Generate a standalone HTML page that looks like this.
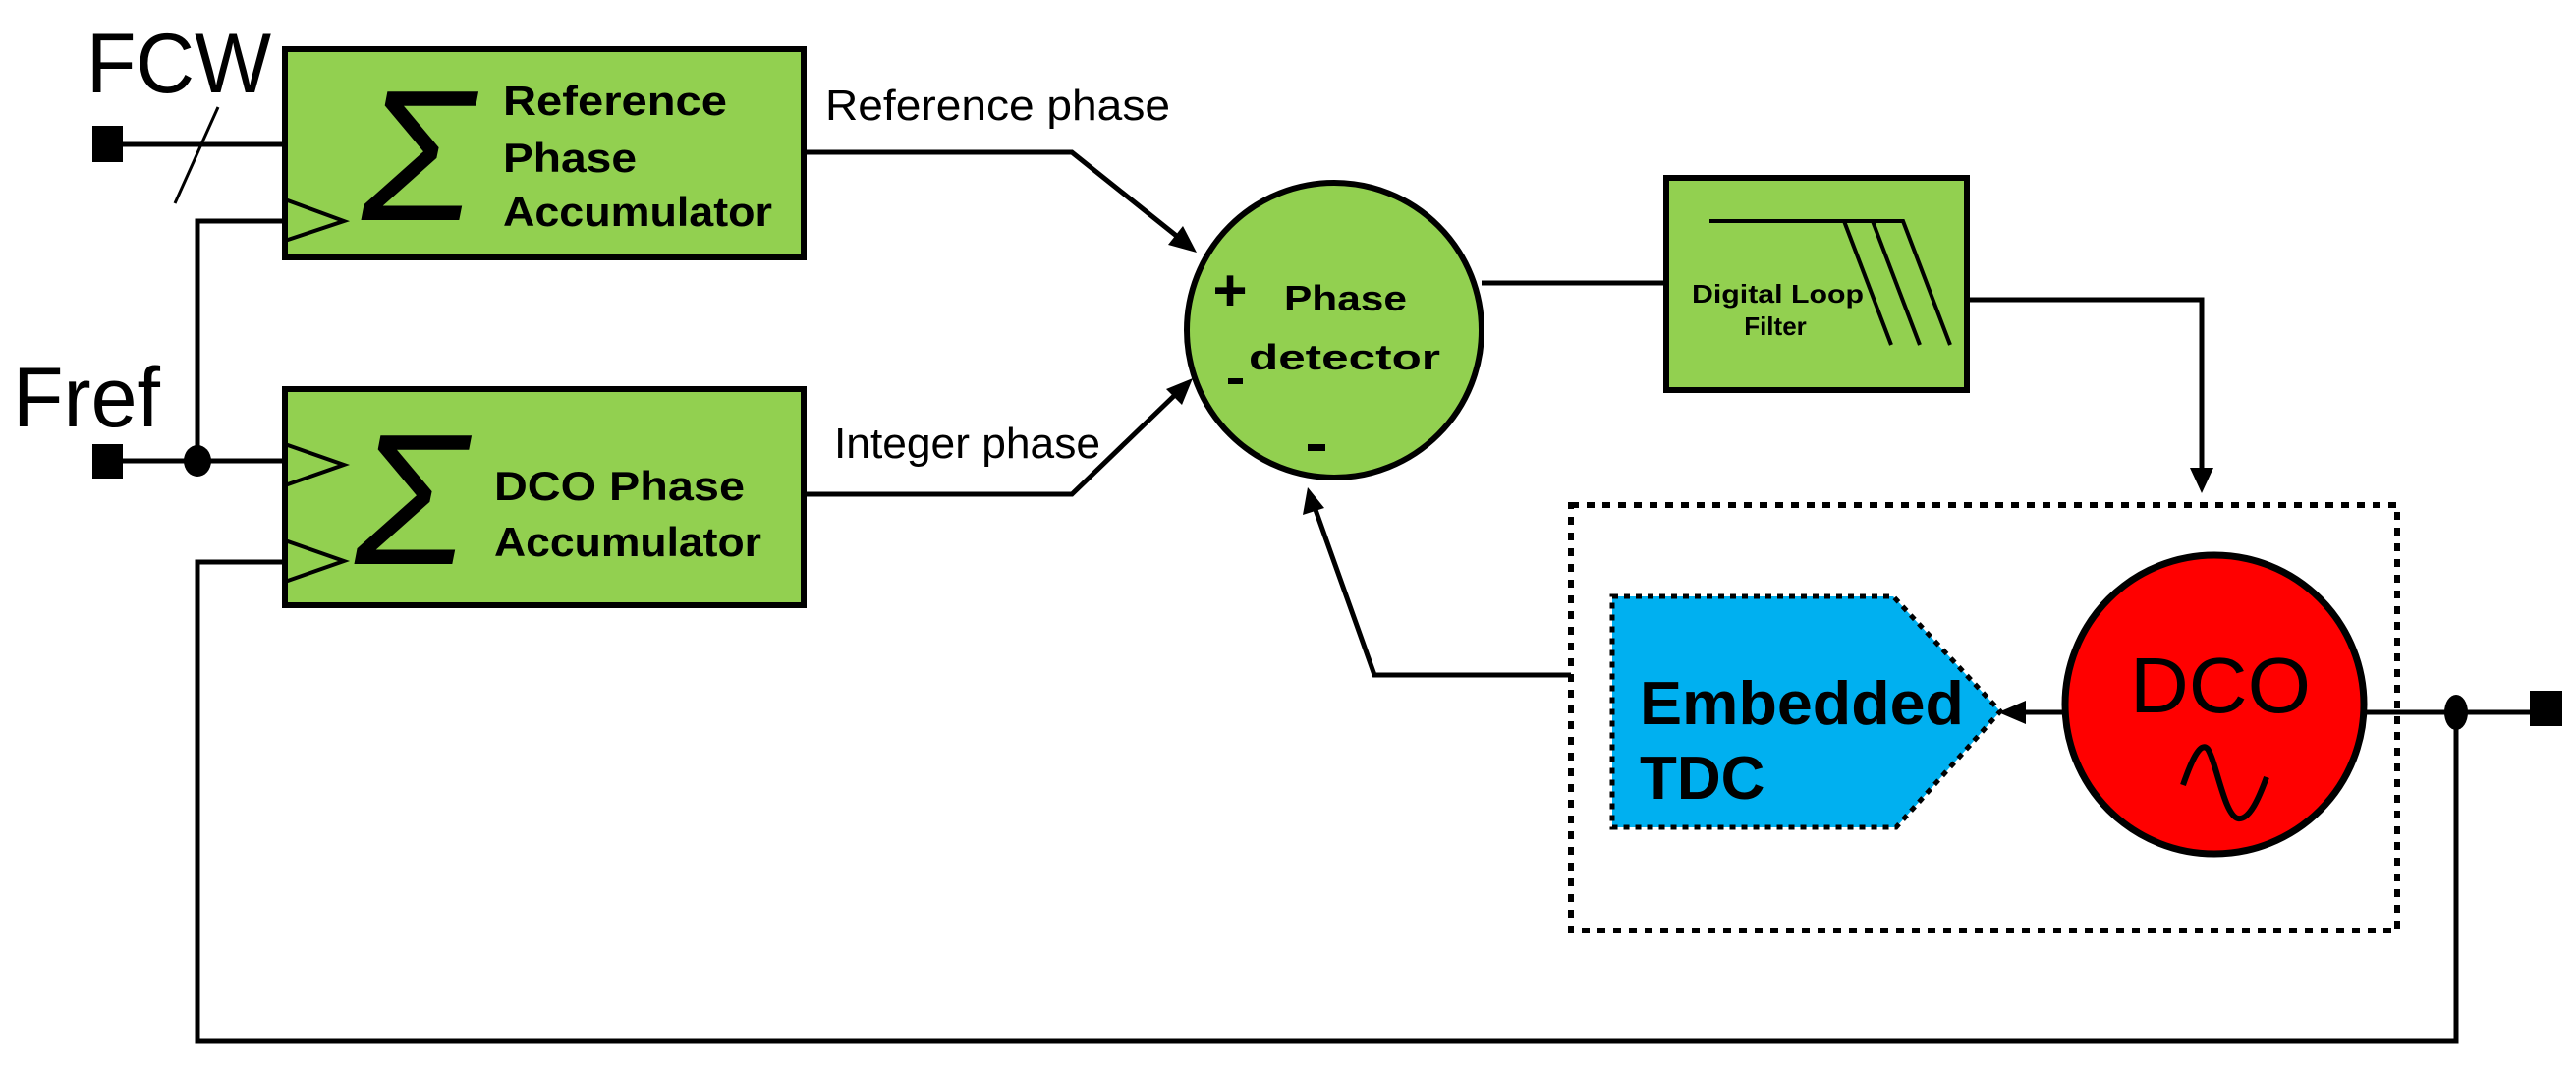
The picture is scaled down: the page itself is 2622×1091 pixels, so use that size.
<!DOCTYPE html>
<html><head><meta charset="utf-8"><style>
html,body{margin:0;padding:0;background:#fff;}
svg{display:block;}
text{font-family:"Liberation Sans",sans-serif;}
</style></head><body>
<svg width="2622" height="1091" viewBox="0 0 2622 1091" xmlns="http://www.w3.org/2000/svg">
<g stroke="#000" fill="none" stroke-width="5">
<line x1="110" y1="147" x2="290" y2="147"/>
<line x1="222" y1="109" x2="178" y2="207" stroke-width="3"/>
<polyline points="290,225 201,225 201,469"/>
<line x1="110" y1="469" x2="290" y2="469"/>
<polyline points="290,572 201,572 201,1059 2500,1059 2500,725"/>
<polyline points="818,155 1091,155 1200,242"/>
<polyline points="818,503 1091,503 1198,400"/>
<line x1="1508" y1="288" x2="1696" y2="288"/>
<polyline points="2002,305 2241,305 2241,480"/>
<polyline points="1599,687 1399,687 1338,516"/>
<line x1="2118" y1="725" x2="2058" y2="725"/>
<line x1="2406" y1="725" x2="2580" y2="725"/>
</g>
<g fill="#000">
<polygon points="1218,257 1189,249 1204,230"/>
<polygon points="1214,385 1187,396 1203,412"/>
<polygon points="2241,502 2229,476 2253,476"/>
<polygon points="1331,496 1326,524 1348,517"/>
<polygon points="2034,725 2062,713 2062,737"/>
</g>
<rect x="94" y="128" width="31" height="37" fill="#000"/>
<rect x="94" y="452" width="31" height="35" fill="#000"/>
<rect x="2575" y="703" width="33" height="36" fill="#000"/>
<ellipse cx="201" cy="469" rx="14" ry="16" fill="#000"/>
<ellipse cx="2500" cy="725" rx="12" ry="18" fill="#000"/>
<rect x="290" y="50" width="528" height="212" fill="#92d050" stroke="#000" stroke-width="6"/>
<rect x="290" y="396" width="528" height="220" fill="#92d050" stroke="#000" stroke-width="6"/>
<g stroke="#000" fill="none" stroke-width="4">
<polyline points="290,203 350,225 290,245"/>
<polyline points="290,452 350,473 290,494"/>
<polyline points="290,550 350,571 290,592"/>
</g>
<text x="425" y="224" font-family="Liberation Serif,serif" font-size="190" text-anchor="middle" font-style="italic">Σ</text>
<text x="418" y="574" font-family="Liberation Serif,serif" font-size="190" text-anchor="middle" font-style="italic">Σ</text>
<g font-weight="bold" font-size="42" fill="#000">
<text x="512" y="117" textLength="228" lengthAdjust="spacingAndGlyphs">Reference</text>
<text x="512" y="175" textLength="136" lengthAdjust="spacingAndGlyphs">Phase</text>
<text x="512" y="230" textLength="274" lengthAdjust="spacingAndGlyphs">Accumulator</text>
<text x="503" y="509" textLength="255" lengthAdjust="spacingAndGlyphs">DCO Phase</text>
<text x="503" y="566" textLength="272" lengthAdjust="spacingAndGlyphs">Accumulator</text>
</g>
<text x="88" y="94" font-size="86" textLength="188" lengthAdjust="spacingAndGlyphs">FCW</text>
<text x="13" y="434" font-size="86" textLength="150" lengthAdjust="spacingAndGlyphs">Fref</text>
<text x="840" y="122" font-size="44" textLength="351" lengthAdjust="spacingAndGlyphs">Reference phase</text>
<text x="849" y="466" font-size="44" textLength="271" lengthAdjust="spacingAndGlyphs">Integer phase</text>
<circle cx="1358" cy="336" r="150" fill="#92d050" stroke="#000" stroke-width="6"/>
<text x="1252" y="316" font-size="60" text-anchor="middle" font-weight="bold">+</text>
<rect x="1250" y="385" width="15" height="6" fill="#000"/>
<rect x="1331" y="452" width="18" height="7" fill="#000"/>
<text x="1307" y="316" font-size="36" font-weight="bold" textLength="125" lengthAdjust="spacingAndGlyphs">Phase</text>
<text x="1271" y="376" font-size="36" font-weight="bold" textLength="195" lengthAdjust="spacingAndGlyphs">detector</text>
<rect x="1696" y="181" width="306" height="216" fill="#92d050" stroke="#000" stroke-width="6"/>
<g stroke="#000" stroke-width="4" fill="none">
<polyline points="1740,225 1937,225 1985,351"/>
<line x1="1877" y1="225" x2="1925" y2="351"/>
<line x1="1906" y1="225" x2="1954" y2="351"/>
</g>
<text x="1722" y="308" font-size="26" font-weight="bold" textLength="175" lengthAdjust="spacingAndGlyphs">Digital Loop</text>
<text x="1807" y="341" font-size="26" font-weight="bold" text-anchor="middle">Filter</text>
<rect x="1599" y="514" width="841" height="433" fill="none" stroke="#000" stroke-width="6" stroke-dasharray="8 8"/>
<polygon points="1641,607 1927,607 2036,724 1930,842 1641,842" fill="#00b0f0" stroke="#000" stroke-width="5" stroke-dasharray="6 6"/>
<text x="1669" y="737" font-size="62" font-weight="bold" textLength="330" lengthAdjust="spacingAndGlyphs">Embedded</text>
<text x="1669" y="813" font-size="62" font-weight="bold">TDC</text>
<ellipse cx="2254" cy="717" rx="152" ry="152" fill="#f00" stroke="#000" stroke-width="7"/>
<text x="2168" y="725" font-size="80" textLength="184" lengthAdjust="spacingAndGlyphs">DCO</text>
<path d="M2222,799 C2232,770 2240,755 2247,762 C2256,775 2264,830 2278,833 C2290,835 2300,810 2307,791" fill="none" stroke="#000" stroke-width="6"/>
</svg>
</body></html>
